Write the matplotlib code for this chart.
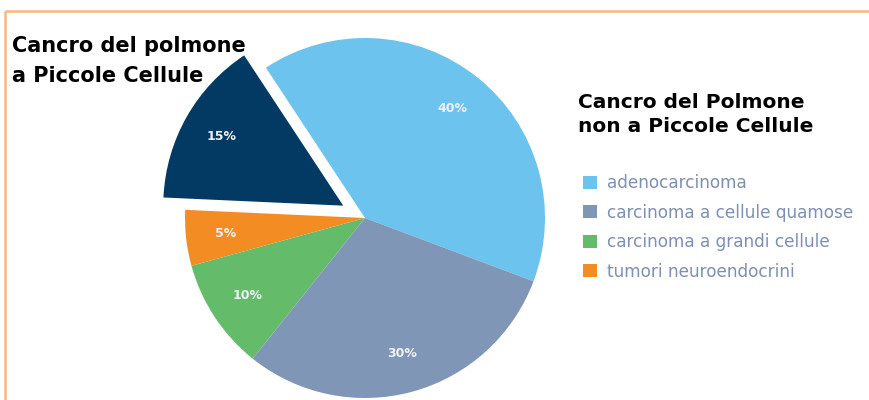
import matplotlib.pyplot as plt
from matplotlib.patches import Patch

# slice order runs counterclockwise from the adenocarcinoma wedge
labels = ['adenocarcinoma', 'microcitoma', 'tumori neuroendocrini',
          'carcinoma a grandi cellule', 'carcinoma a cellule quamose']
shares = [40, 15, 5, 10, 30]
colors = ['#6cc3ee', '#033a63', '#f28c23', '#64bc6b', '#7f96b6']
explode = [0, 25, 0, 0, 0]

legend_labels = ['adenocarcinoma', 'carcinoma a cellule quamose',
                 'carcinoma a grandi cellule', 'tumori neuroendocrini']
legend_colors = ['#6cc3ee', '#7f96b6', '#64bc6b', '#f28c23']

W, H = 870, 400
fig = plt.figure(figsize=(W / 100, H / 100), dpi=100)
ax = fig.add_axes([0, 0, 1, 1])

wedges, texts, autotexts = ax.pie(
    shares, colors=colors, explode=explode, startangle=-20.6,
    center=(365, H - 218), radius=180, autopct='%.0f%%', pctdistance=0.78,
    wedgeprops=dict(edgecolor='none'), frame=True,
    textprops=dict(color='#eef2f7', fontsize=9, fontweight='bold'))
ax.set_xlim(0, W)
ax.set_ylim(0, H)
ax.set_aspect('equal')
ax.axis('off')

# orange frame along top and left
ax.plot([5.5, W], [H - 10.5, H - 10.5], color='#f6b87c', lw=1.8, solid_capstyle='butt')
ax.plot([5.5, 5.5], [0, H - 10.5], color='#f6b87c', lw=1.8, solid_capstyle='butt')

ax.text(12, H - 36, 'Cancro del polmone\na Piccole Cellule', fontsize=15,
        fontweight='bold', color='black', va='top', ha='left', linespacing=1.6)
ax.text(578, H - 93, 'Cancro del Polmone\nnon a Piccole Cellule', fontsize=14.5,
        fontweight='bold', color='black', va='top', ha='left', linespacing=1.3)

handles = [Patch(facecolor=c, edgecolor='none') for c in legend_colors]
ax.legend(handles, legend_labels, loc='upper left',
          bbox_to_anchor=(568 / W, 1 - 159 / H), frameon=False,
          fontsize=12.2, labelcolor='#7d8fb2', handlelength=0.8,
          handleheight=0.8, handletextpad=0.6, labelspacing=0.68)

fig.savefig('out.png', dpi=100, facecolor='white')
